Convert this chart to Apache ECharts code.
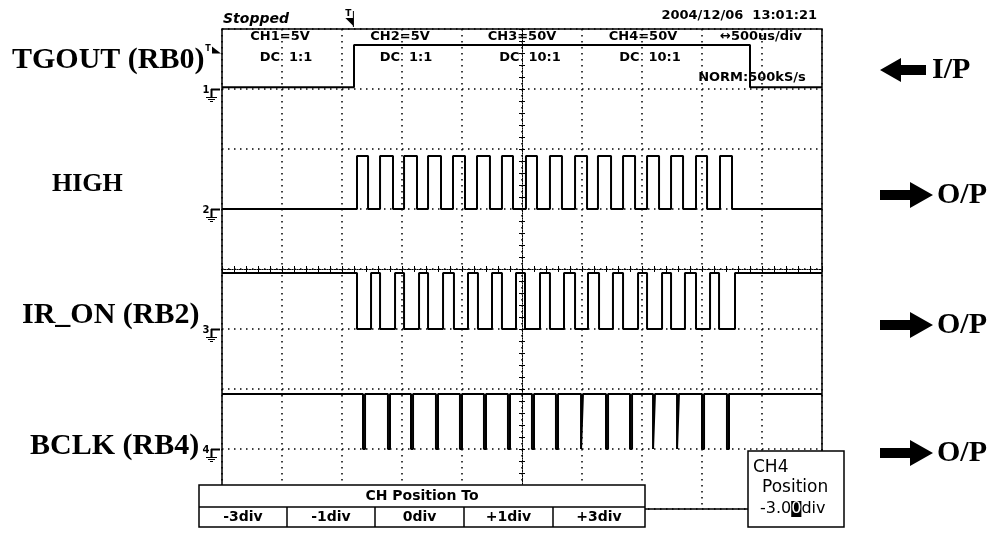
<!DOCTYPE html>
<html><head><meta charset="utf-8">
<script src="https://cdn.jsdelivr.net/npm/echarts@6/dist/echarts.min.js"></script>
<style>html,body{margin:0;padding:0;background:#fff}#c{width:1000px;height:544px}</style>
</head><body><div id="c"></div>
<script>
// ---- data (time in microseconds from left edge of screen, 500 us/div, 10 div) ----
const screenUs = [0, 5000];
const timePerDivUs = 500;
const channelNames = ['TGOUT (RB0)', 'HIGH', 'IR_ON (RB2)', 'BCLK (RB4)'];
const channelIO = ['I/P', 'O/P', 'O/P', 'O/P'];
const voltsPerDiv = [5, 5, 50, 50];
const groundDivFromTop = [1, 3, 5, 7];

const ch1RiseUs = [1100];
const ch1FallUs = [4400];
const ch1LevelsV = [0.15, 3.67];

const ch2RiseUs = [1125,1317,1517,1717,1925,2125,2333,2533,2733,2942,3133,3342,3542,3742,3950,4150];
const ch2FallUs = [1217,1425,1625,1825,2025,2233,2425,2625,2833,3042,3242,3442,3642,3842,4042,4250];
const ch2LevelsV = [0, 4.42];

const ch3FallUs = [1125,1317,1517,1717,1933,2133,2333,2525,2733,2942,3142,3342,3542,3742,3950,4142];
const ch3RiseUs = [1242,1442,1642,1842,2050,2250,2450,2650,2850,3050,3258,3467,3667,3858,4067,4275];
const ch3LevelsV = [0, 46.7];

const ch4FallUs = [1175,1383,1575,1783,1983,2183,2383,2583,2783,2992,3200,3400,3592,3792,4000,4208];
const ch4RiseUs = [1192,1400,1592,1800,2000,2200,2400,2600,2800,3008,3217,3417,3608,3808,4017,4225];
const ch4LevelsV = [0, 45.8];

const triggerTimeUs = 1070;
const triggerLevelV = 3.2;

const headerCh = ['CH1=5V', 'CH2=5V', 'CH3=50V', 'CH4=50V'];
const headerCoupling = ['DC  1:1', 'DC  1:1', 'DC  10:1', 'DC  10:1'];
const menuTitle = 'CH Position To';
const menuItems = ['-3div', '-1div', '0div', '+1div', '+3div'];

// ---- build traces ----
function buildTrace(startHigh, rises, falls, levels) {
  const edges = rises.map(t => [t, 1]).concat(falls.map(t => [t, 0])).sort((a, b) => a[0] - b[0]);
  let lvl = startHigh ? levels[1] : levels[0];
  const pts = [[screenUs[0], lvl]];
  edges.forEach(([t, s]) => { pts.push([t, lvl]); lvl = s ? levels[1] : levels[0]; pts.push([t, lvl]); });
  pts.push([screenUs[1], lvl]);
  return pts;
}
const traces = [
  buildTrace(false, ch1RiseUs, ch1FallUs, ch1LevelsV),
  buildTrace(false, ch2RiseUs, ch2FallUs, ch2LevelsV),
  buildTrace(true, ch3RiseUs, ch3FallUs, ch3LevelsV),
  buildTrace(true, ch4RiseUs, ch4FallUs, ch4LevelsV)
];

const chart = echarts.init(document.getElementById('c'), null, {renderer: 'canvas'});
const dot = {color: '#000', width: 1.5, type: [1.5, 4.5]};

const yAxes = voltsPerDiv.map((v, i) => ({
  type: 'value', gridIndex: 0,
  min: -(8 - groundDivFromTop[i]) * v, max: groundDivFromTop[i] * v, interval: v,
  show: i === 0,
  axisLine: {show: false}, axisTick: {show: false}, axisLabel: {show: false},
  splitLine: {show: i === 0, lineStyle: dot}
}));
yAxes.push({type: 'value', min: -4, max: 4, show: false});
[true, false].forEach(inside => yAxes.push({
  type: 'value', min: -20, max: 20, interval: 1, position: 'left',
  axisLine: {show: true, onZero: true, onZeroAxisIndex: 3, lineStyle: {color: '#000', width: 1, type: [1, 1.5]}},
  axisTick: {show: true, inside: inside, length: 3, lineStyle: {color: '#000', width: 1}},
  axisLabel: {show: false}, splitLine: {show: false}
}));

const xAxes = [{
  type: 'value', min: screenUs[0], max: screenUs[1], interval: timePerDivUs,
  axisLine: {show: false}, axisTick: {show: false}, axisLabel: {show: false},
  splitLine: {show: true, lineStyle: dot}
}];
[true, false].forEach(inside => xAxes.push({
  type: 'value', min: screenUs[0], max: screenUs[1], interval: timePerDivUs / 5, position: 'bottom',
  axisLine: {show: true, onZero: true, onZeroAxisIndex: 4, lineStyle: {color: '#000', width: 1, type: [1, 1.5]}},
  axisTick: {show: true, inside: inside, length: 3, lineStyle: {color: '#000', width: 1}},
  axisLabel: {show: false}, splitLine: {show: false}
}));
xAxes.push({type: 'value', min: -5, max: 5, show: false});

chart.setOption({
  animation: false,
  backgroundColor: '#fff',
  grid: {left: 222, top: 29, width: 600, height: 480, show: true, borderColor: '#000', borderWidth: 1.5,
         backgroundColor: 'transparent', containLabel: false, outerBoundsMode: 'none'},
  xAxis: xAxes,
  yAxis: yAxes,
  series: traces.map((d, i) => ({
    type: 'line', xAxisIndex: 0, yAxisIndex: i, data: d,
    showSymbol: false, symbol: 'none', silent: true, z: 5,
    lineStyle: {color: '#000', width: 2}
  }))
});

// ---- annotations ----
const g = [];
const scope = "'DejaVu Sans', sans-serif";
const serif = "'Liberation Serif', 'Times New Roman', serif";
function txt(x, y, text, font, align, extra) {
  g.push(Object.assign({type: 'text', x: x, y: y, z: 100,
    style: {text: text, font: font, fill: '#000', align: align || 'left', verticalAlign: 'middle'}}, extra || {}));
}
function line(x1, y1, x2, y2, w) {
  g.push({type: 'line', z: 100, shape: {x1, y1, x2, y2}, style: {stroke: '#000', lineWidth: w || 1.5}});
}
function poly(points) {
  g.push({type: 'polygon', z: 100, shape: {points}, style: {fill: '#000'}});
}

txt(223, 19, 'Stopped', "italic bold 14px " + scope);
txt(817, 16, '2004/12/06  13:01:21', "bold 13px " + scope, 'right');

// trigger position marker
const tx = chart.convertToPixel({xAxisIndex: 0}, triggerTimeUs);
txt(tx - 2, 14, 'T', "bold 9px " + scope, 'center');
poly([[tx - 5, 18], [tx + 3, 18], [tx + 3, 26]]);
line(tx + 3, 11, tx + 3, 27, 1);

// trigger level marker
const ty = chart.convertToPixel({yAxisIndex: 0}, triggerLevelV);
txt(208, ty - 2, 'T', "bold 8px " + scope, 'center');
poly([[212, ty - 4], [221, ty + 3], [212, ty + 3]]);

// header
const hx1 = [280, 400, 522, 643];
const hx2 = [286, 406, 530, 650];
headerCh.forEach((t, i) => txt(hx1[i], 37, t, "bold 13px " + scope, 'center'));
headerCoupling.forEach((t, i) => txt(hx2[i], 58, t, "bold 13px " + scope, 'center'));
txt(761, 37, '\u2194500us/div', "bold 13px " + scope, 'center');
txt(752, 78, 'NORM:500kS/s', "bold 13px " + scope, 'center');

// ground markers
groundDivFromTop.forEach((p, i) => {
  const gy = Math.round(chart.convertToPixel({yAxisIndex: i}, 0));
  txt(206, gy + 1, String(i + 1), "bold 10px " + scope, 'center');
  line(211, gy + 0.5, 220, gy + 0.5, 2);
  line(211.5, gy, 211.5, gy + 8, 2);
  line(206, gy + 8.5, 217, gy + 8.5, 1);
  line(208, gy + 10.5, 215, gy + 10.5, 1);
  line(210, gy + 12.5, 213, gy + 12.5, 1);
});

// left labels
const labX = [12, 52, 22, 30];
const labY = [60.5, 184.5, 315, 446];
const labSize = [30, 26, 30, 30];
channelNames.forEach((n, i) => txt(labX[i], labY[i], n, "bold " + labSize[i] + "px " + serif));

// right arrows + labels
const arrY = [70, 195, 325, 453];
channelIO.forEach((t, i) => {
  const c = arrY[i];
  if (i === 0) {
    poly([[880, c], [901, c - 12], [901, c - 5], [926, c - 5], [926, c + 5], [901, c + 5], [901, c + 12]]);
    txt(932, c, t, "bold 30px " + serif);
  } else {
    poly([[880, c - 5], [910, c - 5], [910, c - 13], [933, c], [910, c + 13], [910, c + 5], [880, c + 5]]);
    txt(937, c, t, "bold 30px " + serif);
  }
});

// bottom menu
g.push({type: 'rect', z: 99, shape: {x: 199, y: 485, width: 446, height: 42}, style: {fill: '#fff', stroke: '#000', lineWidth: 1.5}});
line(199, 507, 645, 507, 1.5);
const cells = [199, 287, 375, 464, 553, 645];
for (let k = 1; k < cells.length - 1; k++) line(cells[k], 507, cells[k], 527, 1.5);
txt(422, 496, menuTitle, "bold 14px " + scope, 'center');
menuItems.forEach((t, k) => txt((cells[k] + cells[k + 1]) / 2, 517, t, "bold 14px " + scope, 'center'));

// CH4 position box
g.push({type: 'rect', z: 99, shape: {x: 748, y: 451, width: 96, height: 76}, style: {fill: '#fff', stroke: '#000', lineWidth: 1.5}});
txt(753, 468, 'CH4', "17px " + scope);
txt(762, 488, 'Position', "17px " + scope);
g.push({type: 'text', x: 760, y: 509, z: 100, style: {
  text: '{a|-3.0}{b|0}{a|div}', verticalAlign: 'middle', align: 'left',
  rich: {a: {font: "16px " + scope, fill: '#000', color: '#000'},
         b: {font: "16px " + scope, fill: '#fff', color: '#fff', backgroundColor: '#000'}}
}});

chart.setOption({graphic: {elements: g}});
</script></body></html>
